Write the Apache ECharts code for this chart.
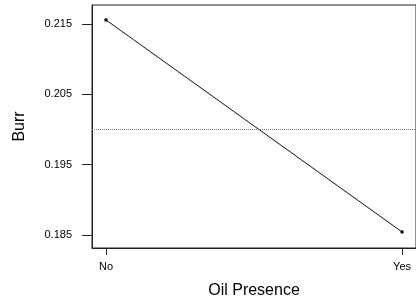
<!DOCTYPE html>
<html>
<head>
<meta charset="utf-8">
<script src="https://cdn.jsdelivr.net/npm/echarts@6/dist/echarts.min.js"></script>
<style>
  html, body { margin: 0; padding: 0; background: #fff; }
  #chart { width: 416px; height: 302px; }
</style>
</head>
<body>
<div id="chart"></div>
<script>
// Main effect of oil presence on burr
const levels = ['No', 'Yes']
const levelPos = [0, 1]
const burrMeans = [0.21557, 0.18543]
const yTicks = [0.185, 0.195, 0.205, 0.215]
const grandMean = 0.2003

const chart = echarts.init(document.getElementById('chart'))

const font = 'Liberation Sans, Arial, sans-serif'

const options = {
  animation: false,
  grid: {
    left: 92,
    right: 0,
    top: 5,
    bottom: 54,
    outerBoundsMode: 'none',
    show: true,
    borderColor: '#222',
    borderWidth: 1
  },
  xAxis: {
    type: 'value',
    min: -0.0473,
    max: 1.047,
    name: 'Oil Presence',
    nameLocation: 'middle',
    nameGap: 35,
    nameTextStyle: { fontFamily: font, fontSize: 16, color: '#000' },
    axisLine: { show: true, onZero: false, lineStyle: { color: '#222' } },
    axisTick: { show: true, length: 7, customValues: levelPos, lineStyle: { color: '#222' } },
    axisLabel: {
      customValues: levelPos,
      margin: 13,
      fontFamily: font,
      fontSize: 11,
      color: '#000',
      formatter: v => levels[Math.round(v)]
    },
    splitLine: { show: false }
  },
  yAxis: {
    type: 'value',
    min: 0.18315,
    max: 0.2177,
    name: 'Burr',
    nameLocation: 'middle',
    nameGap: 64,
    nameTextStyle: { fontFamily: font, fontSize: 16, color: '#000' },
    axisLine: { show: true, onZero: false, lineStyle: { color: '#222' } },
    axisTick: { show: true, length: 10, customValues: yTicks, lineStyle: { color: '#222' } },
    axisLabel: {
      customValues: yTicks,
      margin: 20,
      fontFamily: font,
      fontSize: 11,
      color: '#000',
      formatter: v => v.toFixed(3)
    },
    splitLine: { show: false }
  },
  series: [
    {
      type: 'line',
      data: levelPos.map((x, i) => [x, burrMeans[i]]),
      symbol: 'rect',
      symbolSize: 3,
      itemStyle: { color: '#000' },
      lineStyle: { color: '#111', width: 1 },
      markLine: {
        silent: true,
        symbol: 'none',
        label: { show: false },
        lineStyle: { color: '#777', type: 'dotted', width: 1 },
        data: [{ yAxis: grandMean }]
      }
    }
  ]
}

chart.setOption(options)
</script>
</body>
</html>
